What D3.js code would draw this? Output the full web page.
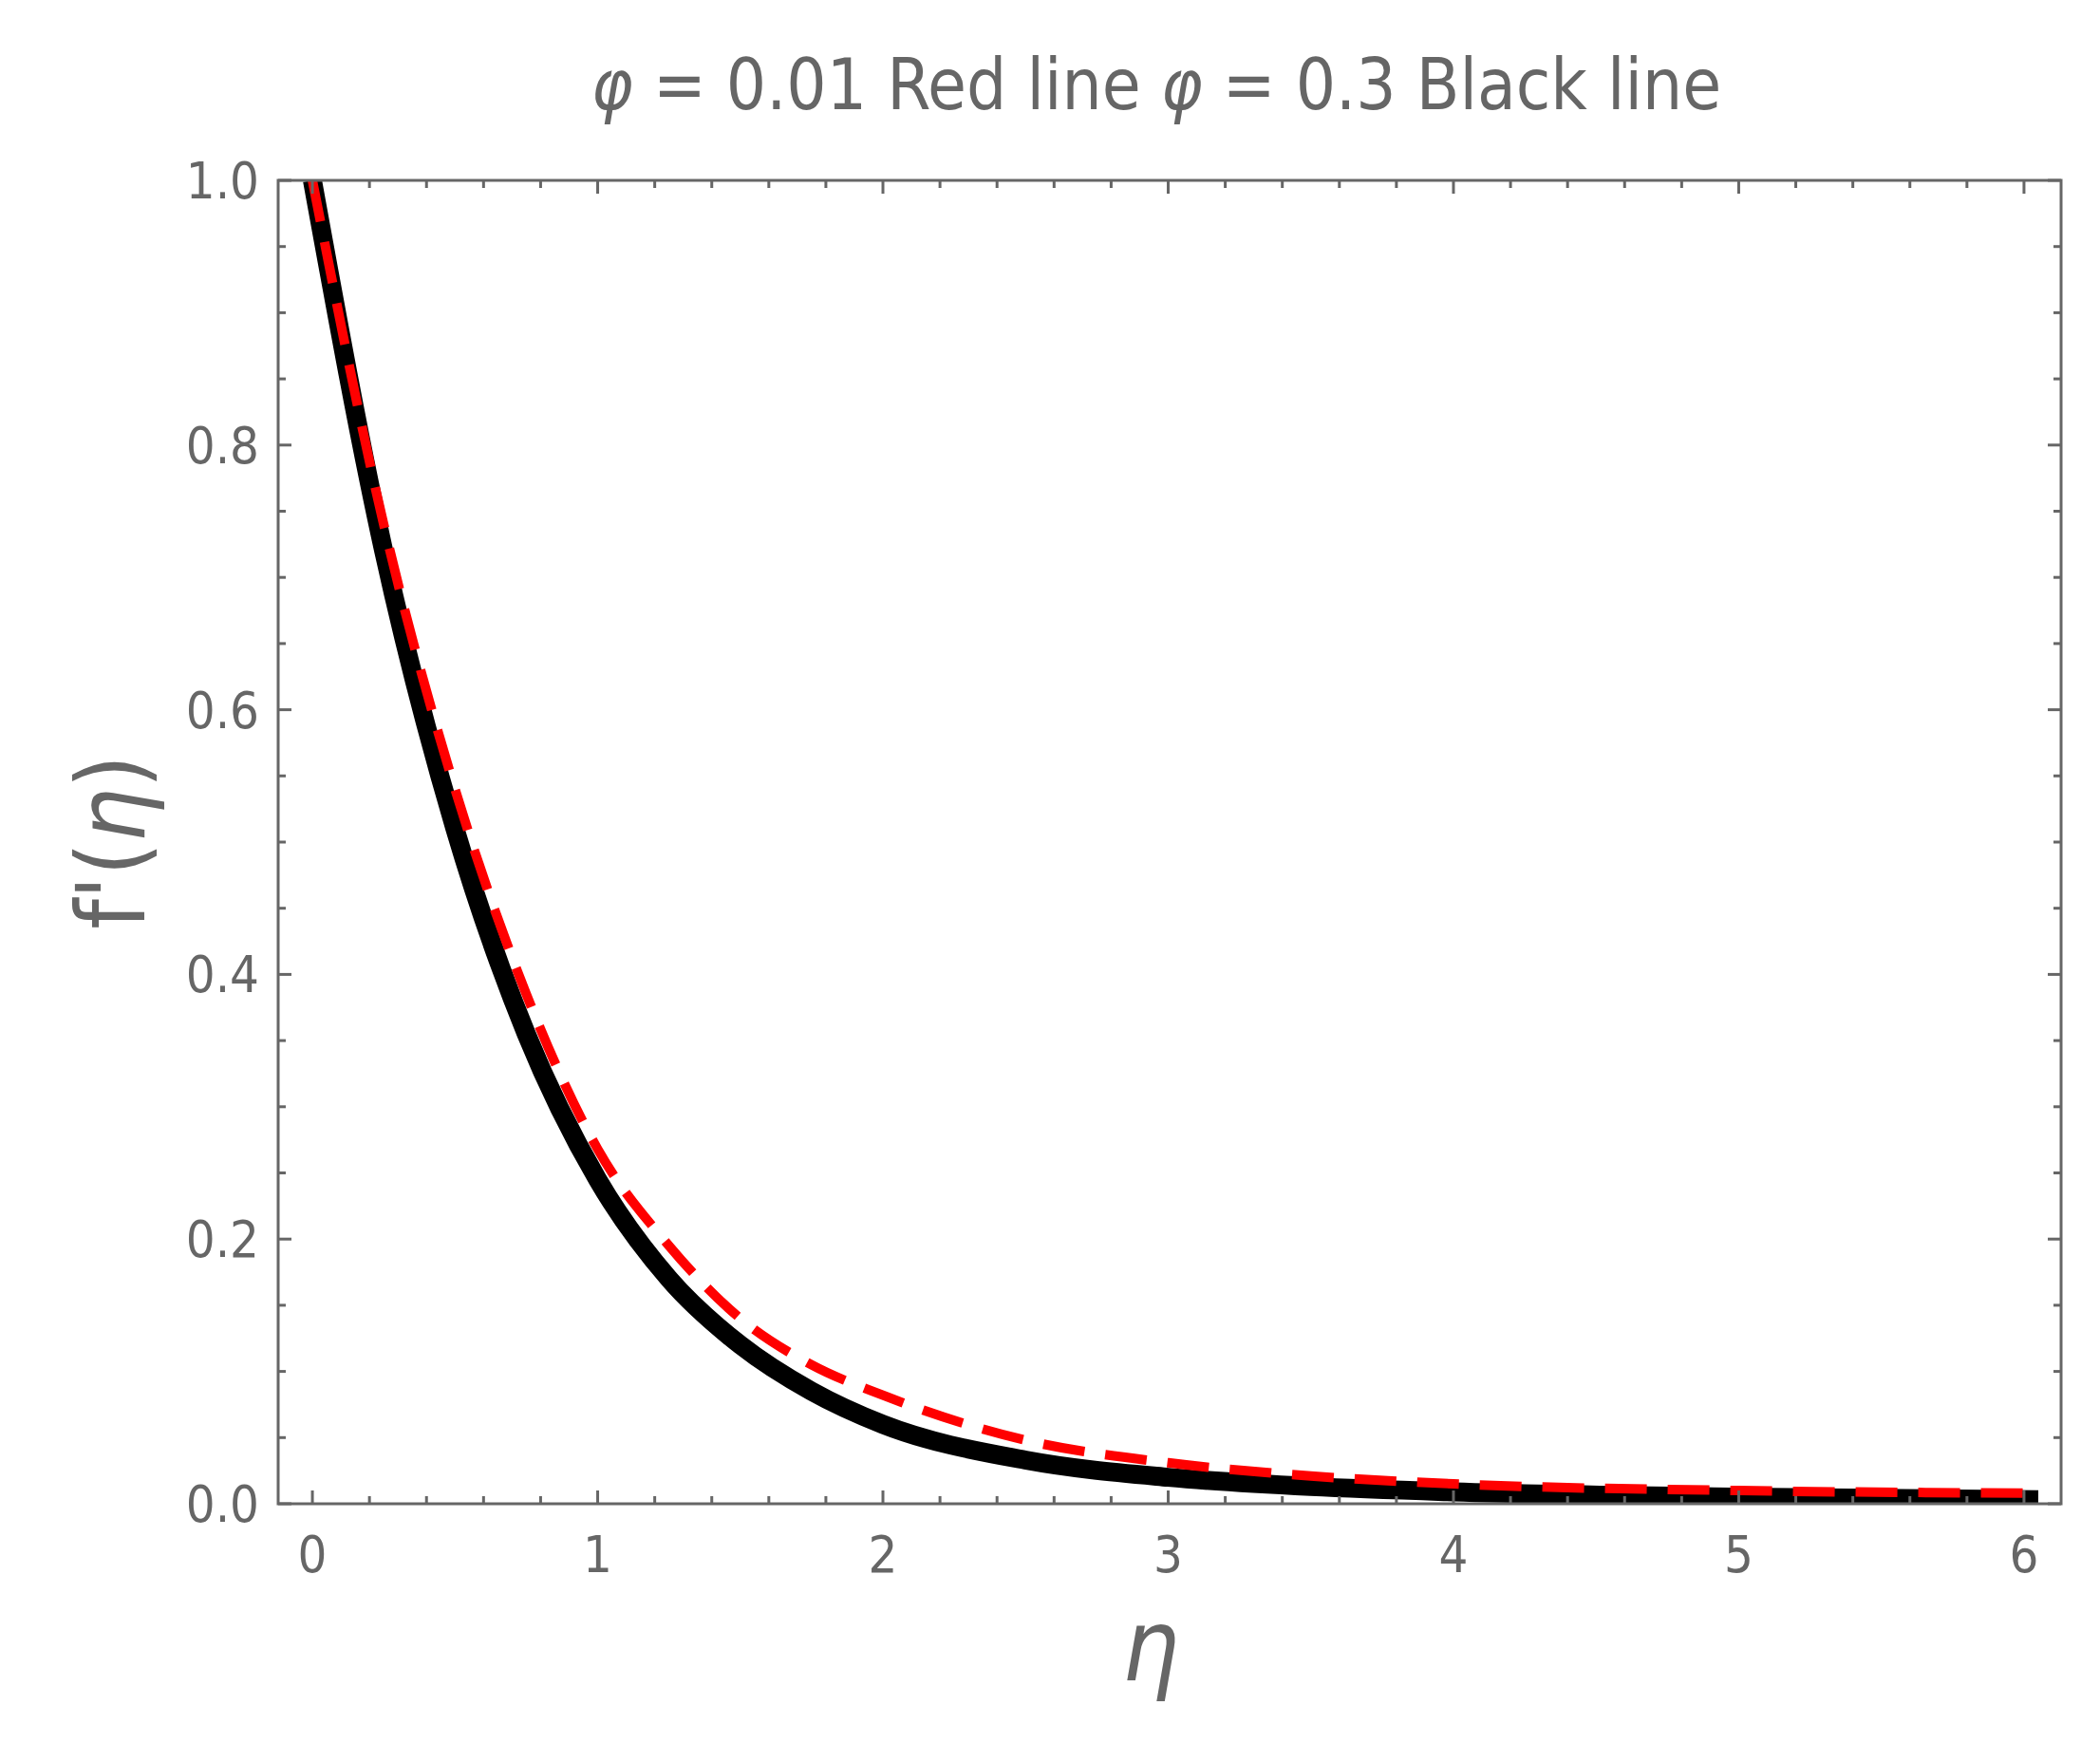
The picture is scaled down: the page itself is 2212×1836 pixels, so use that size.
<!DOCTYPE html>
<html><head><meta charset="utf-8">
<script src="https://cdn.jsdelivr.net/npm/d3@7"></script>
<style>body{margin:0;background:#fff}text{font-family:"Liberation Sans Narrow","DejaVu Sans Condensed","Roboto",sans-serif;fill:#666}</style>
</head><body><svg id="c" width="2212" height="1836"></svg>
<script>
const eta = [0, 0.25, 0.5, 0.75, 1, 1.25, 1.5, 1.75, 2, 2.5, 3, 3.5, 4, 5, 6.05];
const redPhi001 = [1, 0.74, 0.54, 0.385, 0.268, 0.195, 0.14, 0.105, 0.082, 0.048, 0.031, 0.021, 0.015, 0.01, 0.008];
const blackPhi03 = [1, 0.72, 0.51, 0.355, 0.245, 0.17, 0.12, 0.085, 0.06, 0.033, 0.02, 0.013, 0.009, 0.005, 0.003];
const xTicks = [0, 1, 2, 3, 4, 5, 6];
const yTicks = [0, 0.2, 0.4, 0.6, 0.8, 1.0];

const svg = d3.select('#c');
const L = 293, R = 2171, T = 190, B = 1584;
const x = d3.scaleLinear().domain([-0.12, 6.13]).range([L, R]);
const y = d3.scaleLinear().domain([0, 1]).range([B, T]);
const grey = '#666';

const plot = svg.append('g');
plot.append('clipPath').attr('id', 'clip').append('rect')
  .attr('x', L).attr('y', T).attr('width', R - L).attr('height', B - T);

const line = (vals) => d3.line().x((d, i) => x(eta[i])).y(d => y(d)).curve(d3.curveMonotoneX)(vals);
const lines = plot.append('g').attr('clip-path', 'url(#clip)');
lines.append('path').attr('d', line(blackPhi03)).attr('fill', 'none').attr('stroke', '#000').attr('stroke-width', 20);
lines.append('path').attr('d', line(redPhi001)).attr('fill', 'none').attr('stroke', '#f00')
  .attr('stroke-width', 10).attr('stroke-dasharray', '44,22');

// frame
svg.append('rect').attr('x', L).attr('y', T).attr('width', R - L).attr('height', B - T)
  .attr('fill', 'none').attr('stroke', grey).attr('stroke-width', 3);

const ticks = svg.append('g').attr('stroke', grey).attr('stroke-width', 3);
d3.range(0, 6.01, 0.2).forEach(v => {
  const major = Math.abs(v - Math.round(v)) < 1e-6, len = major ? 14 : 8;
  ticks.append('line').attr('x1', x(v)).attr('x2', x(v)).attr('y1', B).attr('y2', B - len);
  ticks.append('line').attr('x1', x(v)).attr('x2', x(v)).attr('y1', T).attr('y2', T + len);
});
d3.range(0, 1.001, 0.05).forEach(v => {
  const major = Math.abs(v * 5 - Math.round(v * 5)) < 1e-6, len = major ? 14 : 8;
  ticks.append('line').attr('y1', y(v)).attr('y2', y(v)).attr('x1', L).attr('x2', L + len);
  ticks.append('line').attr('y1', y(v)).attr('y2', y(v)).attr('x1', R).attr('x2', R - len);
});

svg.append('g').selectAll('text').data(xTicks).enter().append('text')
  .attr('x', d => x(d)).attr('y', B + 72).attr('text-anchor', 'middle')
  .attr('font-size', 54).text(d => d);
svg.append('g').selectAll('text').data(yTicks).enter().append('text')
  .attr('x', L - 20).attr('y', d => y(d) + 19).attr('text-anchor', 'end')
  .attr('font-size', 54).text(d => d.toFixed(1));

svg.append('text').attr('x', (L + R) / 2 - 20).attr('y', 1770).attr('text-anchor', 'middle')
  .attr('font-size', 105).attr('font-style', 'italic').text('η');
svg.append('text').attr('transform', `translate(152,${(T + B) / 2}) rotate(-90)`)
  .attr('text-anchor', 'middle').attr('font-size', 100)
  .html('f\'(<tspan font-style="italic">η</tspan>)');
svg.append('text').attr('x', 1218).attr('y', 115).attr('text-anchor', 'middle').attr('font-size', 74)
  .html('<tspan font-style="italic">φ</tspan> = 0.01  Red line <tspan font-style="italic">φ</tspan> = 0.3  Black line');
</script></body></html>
